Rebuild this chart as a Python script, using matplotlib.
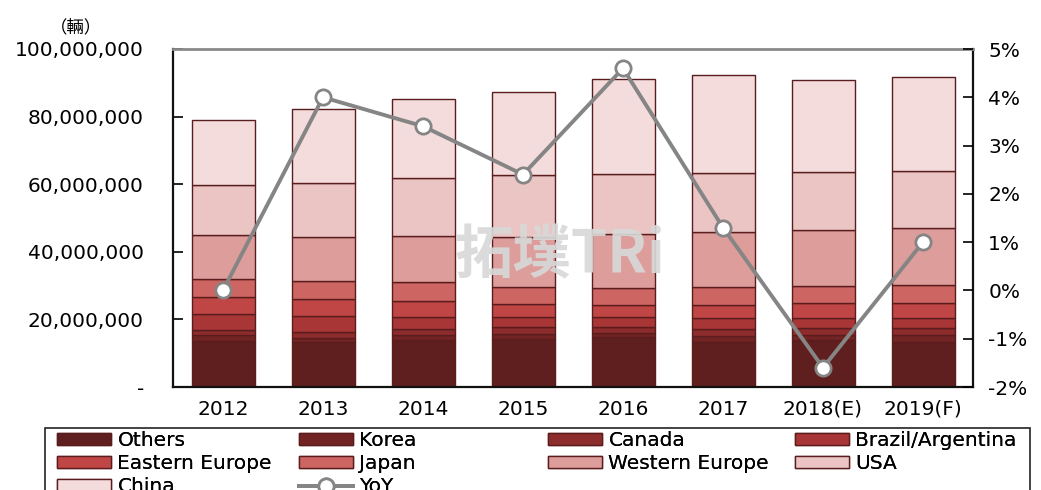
import numpy as np
import matplotlib.pyplot as plt
from matplotlib.patches import Patch, Rectangle
from matplotlib import ticker

# data (million vehicles)
years = ["2012", "2013", "2014", "2015", "2016", "2017", "2018(E)", "2019(F)"]
regions = ["Others", "Korea", "Canada", "Brazil/Argentina", "Eastern Europe",
           "Japan", "Western Europe", "USA", "China"]
others = [13.7, 13.2, 14.0, 14.2, 14.9, 13.4, 13.9, 13.4]
korea = [1.6, 1.4, 1.3, 1.6, 1.2, 1.7, 1.5, 2.0]
canada = [1.6, 1.7, 1.8, 1.9, 1.7, 2.0, 2.0, 2.0]
brazil = [4.7, 4.7, 3.7, 3.1, 2.8, 3.4, 3.1, 3.1]
east_eu = [4.9, 5.0, 4.6, 3.7, 3.7, 3.8, 4.3, 4.4]
japan = [5.4, 5.5, 5.7, 5.2, 4.9, 5.2, 5.2, 5.3]
west_eu = [13.1, 12.8, 13.6, 14.8, 16.0, 16.3, 16.4, 16.9]
usa = [14.8, 16.0, 17.0, 18.2, 17.8, 17.6, 17.1, 16.8]
china = [19.2, 21.9, 23.4, 24.5, 28.1, 28.9, 27.3, 27.9]
yoy = [0.0, 4.0, 3.4, 2.4, 4.6, 1.3, -1.6, 1.0]

series = [others, korea, canada, brazil, east_eu, japan, west_eu, usa, china]
colors = ["#5f1f1f", "#722424", "#8c2c2c", "#a83636", "#c04646",
          "#cd6662", "#dc9d9b", "#ebc5c4", "#f4dcdc"]
edge = "#5a1c1c"

plt.rcParams["font.family"] = ["DejaVu Sans", "Noto Sans CJK TC"]

fig = plt.figure(figsize=(10.41, 4.90), dpi=100)
ax = fig.add_axes([173/1041, 1-387/490, 800/1041, 338/490])
x = np.arange(len(years))

bottom = np.zeros(len(years))
bars = []
for vals, c, name in zip(series, colors, regions):
    v = np.array(vals) * 1e6
    b = ax.bar(x, v, 0.63, bottom=bottom, color=c, edgecolor=edge, linewidth=1.0,
               label=name, zorder=2)
    bars.append(b)
    bottom += v

ax.set_xlim(-0.5, len(years) - 0.5)
ax.set_ylim(0, 100e6)
ax.set_yticks(np.arange(0, 100e6 + 1, 20e6))
ax.yaxis.set_major_formatter(ticker.FuncFormatter(
    lambda v, p: "-" if v == 0 else "{:,.0f}".format(v)))
ax.set_xticks(x)
ax.set_xticklabels(years)
ax.tick_params(axis="y", direction="in", length=7, width=1.2, labelsize=14.5, pad=21)
ax.tick_params(axis="x", length=0, labelsize=14.5, pad=9)
for s in ["left", "right", "bottom"]:
    ax.spines[s].set_color("#111111")
    ax.spines[s].set_linewidth(1.6)
ax.spines["top"].set_color("#8a8a8a")
ax.spines["top"].set_linewidth(2)

ax2 = ax.twinx()
ax2.set_ylim(-2, 5)
ax2.set_yticks(np.arange(-2, 6, 1))
ax2.yaxis.set_major_formatter(ticker.FuncFormatter(lambda v, p: "{:.0f}%".format(v)))
ax2.tick_params(axis="y", direction="in", length=7, width=1.2, labelsize=14.5, pad=11)
for s in ax2.spines.values():
    s.set_visible(False)
line, = ax2.plot(x, yoy, color="#858585", lw=2.8, marker="o", ms=11,
                 mfc="white", mec="#858585", mew=2, zorder=5, label="YoY")

# watermark
ax.text(3.37, 38.5e6, "拓墣TRi", fontsize=42, fontweight="bold", color="#d8d8d8",
        alpha=0.92, ha="center", va="center", zorder=3,
        family=["Noto Sans CJK TC", "DejaVu Sans"])

fig.text(76/1041, 1-27/490, "（輛）", fontsize=12.5, ha="center", va="center",
         family=["Noto Sans CJK TC", "DejaVu Sans"])

# legend: a frame plus four single-column legends
fig.patches.append(Rectangle((45/1041, -0.1), 985/1041, 0.1 + 1-428/490,
                             transform=fig.transFigure, fill=False,
                             edgecolor="#222222", linewidth=1.2))
cols = [([bars[0], bars[4], bars[8]], ["Others", "Eastern Europe", "China"]),
        ([bars[1], bars[5], line], ["Korea", "Japan", "YoY"]),
        ([bars[2], bars[6]], ["Canada", "Western Europe"]),
        ([bars[3], bars[7]], ["Brazil/Argentina", "USA"])]
col_x = [57, 299, 548, 795]
for (hs, ls), cx in zip(cols, col_x):
    lg = fig.legend(hs, ls, loc="upper left", frameon=False,
                    bbox_to_anchor=(cx/1041, 1-431/490),
                    bbox_transform=fig.transFigure, fontsize=14.5,
                    borderpad=0, borderaxespad=0, labelspacing=0.2,
                    handlelength=2.7, handleheight=0.5, handletextpad=0.3)
    fig.add_artist(lg)

fig.savefig("out.png", dpi=100)
